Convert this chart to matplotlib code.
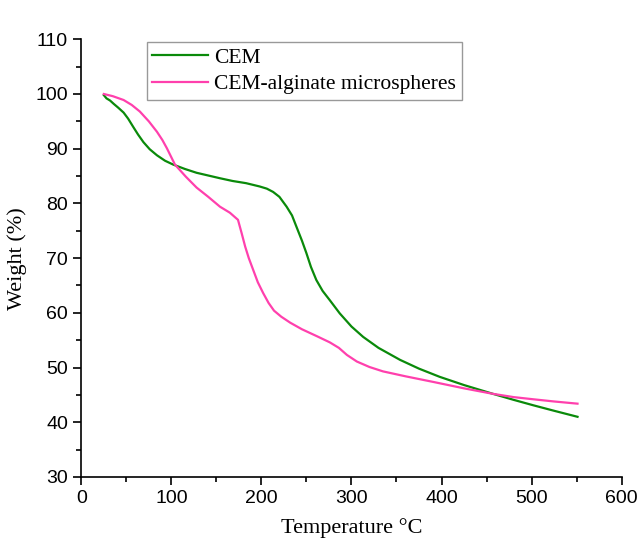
import matplotlib
matplotlib.use("Agg")
import matplotlib.pyplot as plt
from matplotlib.ticker import MultipleLocator

# Temperature (°C) and weight (%)
temp_cem = [25, 28, 32, 36, 41, 47, 52, 58, 63, 69, 76, 84, 93, 102, 115, 128, 141,
            154, 168, 183, 198, 206, 213, 220, 228, 234, 239, 245, 250, 255, 261, 268,
            276, 287, 300, 313, 330, 354, 375, 398, 425, 457, 480, 502, 525, 551]
weight_cem = [99.8, 99.2, 98.8, 98.2, 97.5, 96.6, 95.5, 93.9, 92.6, 91.2, 89.9, 88.8,
              87.8, 87.1, 86.3, 85.6, 85.1, 84.6, 84.1, 83.7, 83.1, 82.7, 82.1, 81.2,
              79.4, 77.8, 75.7, 73.2, 70.9, 68.4, 66.0, 64.0, 62.3, 59.9, 57.5, 55.6,
              53.6, 51.4, 49.8, 48.3, 46.8, 45.2, 44.1, 43.1, 42.1, 41.0]

temp_alg = [25, 35, 47, 56, 65, 75, 84, 90, 95, 104, 116, 128, 141, 154, 165, 174,
            178, 182, 186, 191, 196, 202, 208, 214, 222, 232, 245, 262, 276, 286, 295,
            306, 320, 335, 360, 390, 425, 457, 480, 502, 525, 551]
weight_alg = [100.0, 99.6, 98.9, 98.0, 96.8, 95.0, 93.1, 91.6, 90.1, 87.1, 84.9, 82.9,
              81.2, 79.4, 78.3, 77.0, 74.6, 72.1, 70.0, 67.8, 65.6, 63.6, 61.8, 60.4,
              59.3, 58.2, 57.0, 55.7, 54.6, 53.6, 52.3, 51.1, 50.1, 49.3, 48.4, 47.4,
              46.2, 45.2, 44.6, 44.2, 43.8, 43.4]

x_ticks = [0, 100, 200, 300, 400, 500, 600]
y_ticks = [30, 40, 50, 60, 70, 80, 90, 100, 110]

serif = "Liberation Serif"
sans = "Liberation Sans"

fig = plt.figure(figsize=(6.41, 5.44), dpi=100)
ax = fig.add_axes([0.1268, 0.1232, 0.843, 0.8046])

ax.plot(temp_cem, weight_cem, color="#0a8a0a", lw=1.6, label="CEM")
ax.plot(temp_alg, weight_alg, color="#ff40ad", lw=1.6, label="CEM-alginate microspheres")

ax.set_xlim(0, 600)
ax.set_ylim(30, 110)
ax.set_xticks(x_ticks)
ax.set_yticks(y_ticks)
ax.xaxis.set_minor_locator(MultipleLocator(50))
ax.yaxis.set_minor_locator(MultipleLocator(5))

for side in ("top", "right"):
    ax.spines[side].set_visible(False)
for side in ("left", "bottom"):
    ax.spines[side].set_linewidth(1.2)

ax.tick_params(which="major", direction="out", length=6, width=1.2, labelsize=14)
ax.tick_params(which="minor", direction="out", length=3.5, width=1.2)
for lab in ax.get_xticklabels() + ax.get_yticklabels():
    lab.set_fontfamily(sans)

ax.set_xlabel("Temperature \u00b0C", fontfamily=serif, fontsize=16, labelpad=8)
ax.set_ylabel("Weight (%)", fontfamily=serif, fontsize=16, labelpad=6)

leg = ax.legend(loc="upper left", bbox_to_anchor=(0.121, 0.993),
                prop={"family": serif, "size": 15.5}, frameon=True, fancybox=False,
                borderpad=0.25, labelspacing=0.3, handlelength=2.6,
                handletextpad=0.3, borderaxespad=0.0)
leg.get_frame().set_edgecolor("#808080")
leg.get_frame().set_linewidth(1.0)

fig.savefig("out.png", dpi=100)
